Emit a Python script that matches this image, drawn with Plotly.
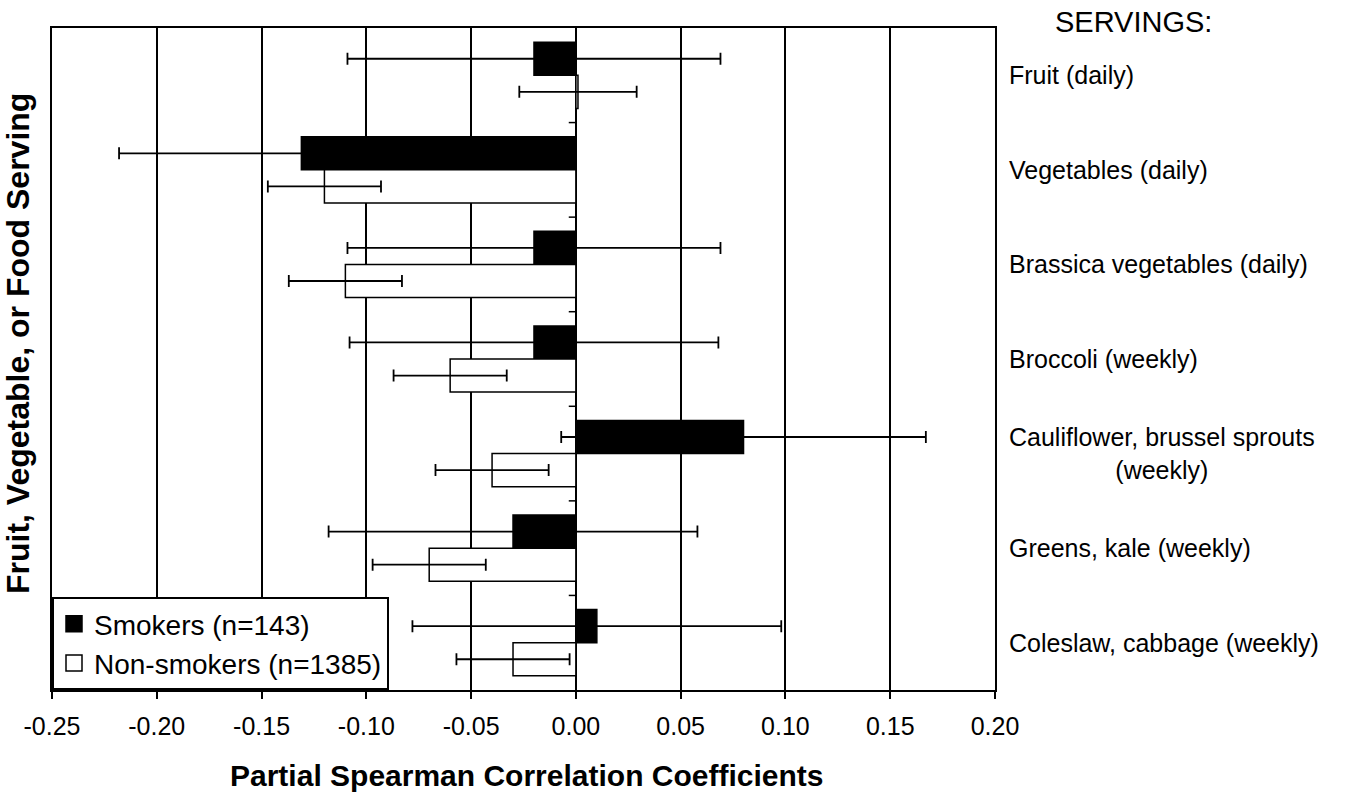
import plotly.graph_objects as go

# ---- data ----
categories = ["Fruit (daily)", "Vegetables (daily)", "Brassica vegetables (daily)",
              "Broccoli (weekly)", "Cauliflower, brussel sprouts (weekly)",
              "Greens, kale (weekly)", "Coleslaw, cabbage (weekly)"]
category_labels = ["Fruit (daily)", "Vegetables (daily)", "Brassica vegetables (daily)",
                   "Broccoli (weekly)", "Cauliflower, brussel sprouts<br>(weekly)",
                   "Greens, kale (weekly)", "Coleslaw, cabbage (weekly)"]
smokers = [-0.020, -0.131, -0.020, -0.020, 0.080, -0.030, 0.010]
smokers_err = [0.089, 0.087, 0.089, 0.088, 0.087, 0.088, 0.088]
nonsmokers = [0.001, -0.120, -0.110, -0.060, -0.040, -0.070, -0.030]
nonsmokers_err = [0.028, 0.027, 0.027, 0.027, 0.027, 0.027, 0.027]
tick_vals = [-0.25, -0.20, -0.15, -0.10, -0.05, 0.00, 0.05, 0.10, 0.15, 0.20]
tick_text = ["-0.25", "-0.20", "-0.15", "-0.10", "-0.05", "0.00", "0.05", "0.10", "0.15", "0.20"]
series_names = ["Smokers (n=143)", "Non-smokers (n=1385)"]

FONT = "Liberation Sans, Arial, sans-serif"

# plot area in pixels
W, H = 1349, 797
L, R, T, B = 52, 995, 28, 690
pw, ph = R - L, B - T

def px_x(x):
    return (x - L) / pw

def px_y(y):
    return (B - y) / ph

fig = go.Figure()

fig.add_trace(go.Bar(
    y=categories, x=smokers, orientation="h", name=series_names[0],
    marker=dict(color="black", line=dict(color="black", width=1.5)),
    error_x=dict(type="data", array=smokers_err, color="black", thickness=1.8, width=6),
    showlegend=False,
))
fig.add_trace(go.Bar(
    y=categories, x=nonsmokers, orientation="h", name=series_names[1],
    marker=dict(color="white", line=dict(color="black", width=1.5)),
    error_x=dict(type="data", array=nonsmokers_err, color="black", thickness=1.8, width=6),
    showlegend=False,
))

# legend entries
fig.add_trace(go.Scatter(
    x=[None], y=[None], mode="markers", name=series_names[0],
    marker=dict(symbol="square", size=16, color="black", line=dict(color="black", width=1.5)),
))
fig.add_trace(go.Scatter(
    x=[None], y=[None], mode="markers", name=series_names[1],
    marker=dict(symbol="square", size=16, color="white", line=dict(color="black", width=1.5)),
))

# small ticks on the zero line at category boundaries
shapes = []
for i in range(1, len(categories)):
    shapes.append(dict(type="line", xref="x", yref="y", x0=-0.0034, x1=0,
                       y0=i - 0.5, y1=i - 0.5, line=dict(color="black", width=1.5)))

annotations = []
for cat, lab in zip(categories, category_labels):
    annotations.append(dict(x=1, xref="paper", xshift=12, y=cat, yref="y",
                            text=lab, showarrow=False, xanchor="left", yanchor="middle",
                            align="center", font=dict(family=FONT, size=25, color="black")))
annotations.append(dict(x=px_x(1133), y=px_y(22), xref="paper", yref="paper",
                        text="SERVINGS:", showarrow=False, xanchor="center", yanchor="middle",
                        font=dict(family=FONT, size=29, color="black")))
annotations.append(dict(x=px_x(18), y=px_y(344), xref="paper", yref="paper",
                        text="<b>Fruit, Vegetable, or Food Serving</b>", showarrow=False,
                        textangle=-90, xanchor="center", yanchor="middle",
                        font=dict(family=FONT, size=32, color="black")))
annotations.append(dict(x=px_x(527), y=px_y(775), xref="paper", yref="paper",
                        text="<b>Partial Spearman Correlation Coefficients</b>", showarrow=False,
                        xanchor="center", yanchor="middle",
                        font=dict(family=FONT, size=30, color="black")))

fig.update_layout(
    width=W, height=H,
    margin=dict(l=L, r=W - R, t=T, b=H - B, pad=0),
    paper_bgcolor="white", plot_bgcolor="white",
    barmode="group", bargap=0.3, bargroupgap=0,
    font=dict(family=FONT, size=25, color="black"),
    shapes=shapes, annotations=annotations,
    legend=dict(x=0, y=0, xanchor="left", yanchor="bottom",
                bgcolor="white", bordercolor="black", borderwidth=2,
                font=dict(family=FONT, size=28, color="black"),
                itemsizing="trace", tracegroupgap=0),
    xaxis=dict(range=[-0.25, 0.20], tickvals=tick_vals, ticktext=tick_text,
               showgrid=True, gridcolor="black", gridwidth=1.5,
               zeroline=False, showline=True, mirror=True, linecolor="black", linewidth=2,
               ticks="outside", ticklen=7, tickwidth=2, tickcolor="black",
               ticklabelstandoff=6,
               tickfont=dict(family=FONT, size=25, color="black")),
    yaxis=dict(type="category", categoryorder="array", categoryarray=categories,
               autorange="reversed", showticklabels=False, ticks="",
               showgrid=False, zeroline=False,
               showline=True, mirror=True, linecolor="black", linewidth=2),
)

fig.write_html("out.html")
